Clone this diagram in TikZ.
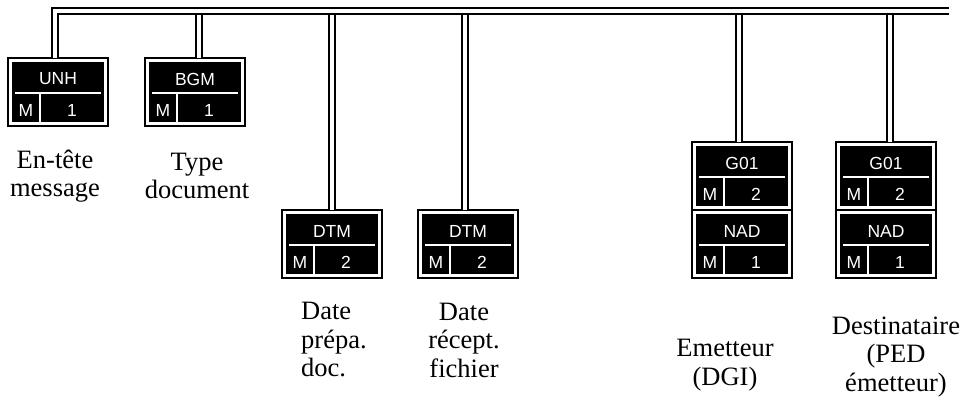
\documentclass[tikz,border=0pt]{standalone}
\usepackage{fontspec}
\setmainfont{Liberation Serif}
\newfontfamily\boxfont{Liberation Sans}
\newcommand\segbox[5]{% id, center x, top y, name, repetition
  \node[segouter] (#1) at (#2, #3+34) {};
  \fill[black] ([shift={(4,4)}]#1.north west) rectangle ([shift={(-4,-4)}]#1.south east);
  \draw[segsep] ([shift={(7,35)}]#1.north west) -- ([shift={(-7,35)}]#1.north east);
  \draw[segsep] ([shift={(32,35)}]#1.north west) -- ([shift={(32,-4)}]#1.south west);
  \node[segtext] (#1-name) at ([shift={(50,21)}]#1.north west) {#4};
  \node[segtext] (#1-st) at ([shift={(18,52)}]#1.north west) {M};
  \node[segtext] (#1-num) at ([shift={(64,52)}]#1.north west) {#5};
}
\begin{document}
\begin{tikzpicture}[x=1pt,y=-1pt,
  segouter/.style={draw=black, line width=1.2pt, fill=white, minimum width=100pt, minimum height=68pt, inner sep=0pt, outer sep=0pt},
  segsep/.style={draw=white, line width=1.6pt},
  segtext/.style={text=white, font=\boxfont\fontsize{17.5}{20}\selectfont, inner sep=0pt},
  wire/.style={draw=black, line width=2pt, double=white, double distance=4pt},
  lbl/.style={font=\fontsize{26.5}{28.5}\selectfont, align=center, inner sep=0pt}
]
\useasboundingbox (0,0) rectangle (964,406);

\segbox{unh}{58}{58}{UNH}{1}
\segbox{bgm}{195}{58}{BGM}{1}
\segbox{dtma}{332}{210}{DTM}{2}
\segbox{dtmb}{468}{210}{DTM}{2}
\segbox{gia}{742}{142}{G01}{2}
\segbox{nada}{742}{210}{NAD}{1}
\segbox{gib}{886}{142}{G01}{2}
\segbox{nadb}{886}{210}{NAD}{1}

\coordinate (busL) at (55,11);
\coordinate (busR) at (949,11);

\draw[wire] ([xshift=3.5pt]bgm.north) -- ([xshift=3.5pt]bgm.north |- busL);
\draw[wire] (dtma.north) -- (dtma.north |- busL);
\draw[wire] ([xshift=-3pt]dtmb.north) -- ([xshift=-3pt]dtmb.north |- busL);
\draw[wire] ([xshift=-3pt]gia.north) -- ([xshift=-3pt]gia.north |- busL);
\draw[wire] ([xshift=4pt]gib.north) -- ([xshift=4pt]gib.north |- busL);
\draw[wire] ([xshift=-3pt]unh.north) -- (busL) -- (busR);

\node[lbl] (l-unh) at (55,176) {En-tête\\message};
\node[lbl] (l-bgm) at (197,176) {Type\\document};
\node[lbl, align=left, anchor=west] (l-dtma) at (301,340) {Date\\prépa.\\doc.};
\node[lbl] (l-dtmb) at (464,340) {Date\\récept.\\fichier};
\node[lbl] (l-nada) at (725,365) {Emetteur\\(DGI)};
\node[lbl] (l-nadb) at (896,357) {Destinataire\\(PED\\émetteur)};
\end{tikzpicture}
\end{document}
